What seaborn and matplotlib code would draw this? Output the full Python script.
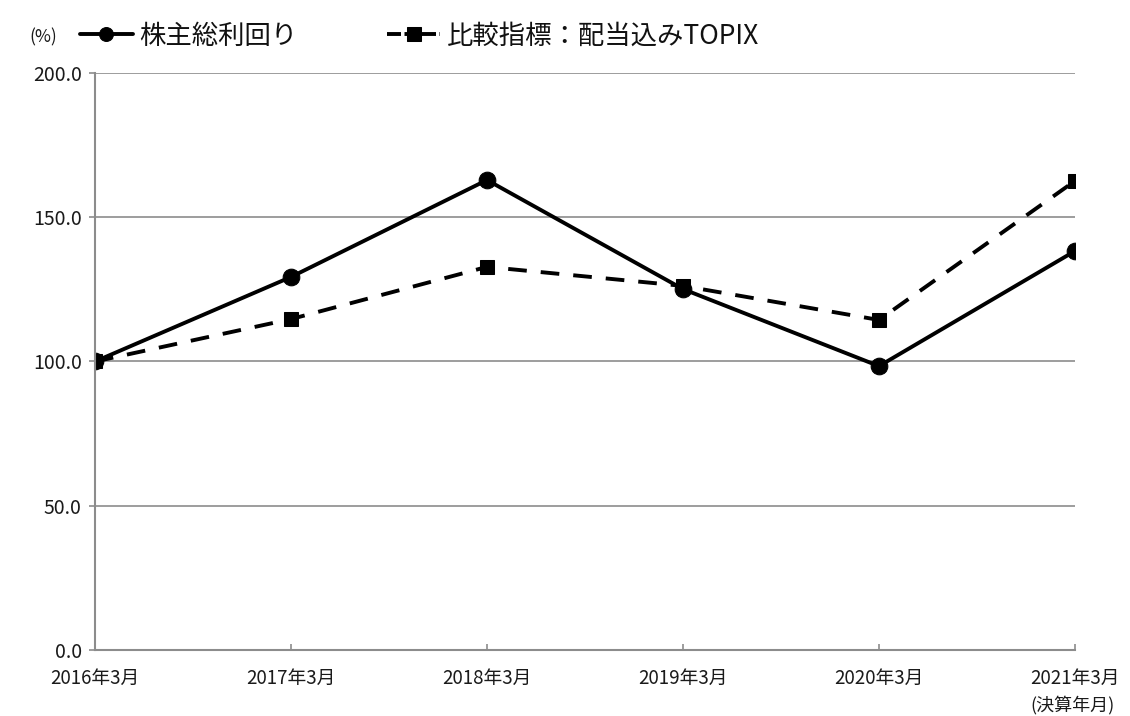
import matplotlib
matplotlib.use("Agg")
import matplotlib.pyplot as plt
import seaborn as sns
import pandas as pd

categories = ["2016年3月", "2017年3月", "2018年3月", "2019年3月", "2020年3月", "2021年3月"]
tsr = [100.0, 129.3, 162.9, 125.1, 98.4, 138.3]
topix = [100.0, 114.7, 132.8, 126.2, 114.4, 162.6]
series_names = ["株主総利回り", "比較指標：配当込みTOPIX"]
yticks = [0, 50, 100, 150, 200]

sns.set_theme(style="white")
plt.rcParams["font.family"] = ["Noto Sans CJK JP", "DejaVu Sans"]

df = pd.DataFrame({
    "cat": categories * 2,
    "pos": list(range(len(categories))) * 2,
    "value": tsr + topix,
    "series": [series_names[0]] * len(categories) + [series_names[1]] * len(categories),
})

fig = plt.figure(figsize=(11.3, 7.16), dpi=100)
ax = fig.add_axes([95 / 1130, 1 - 650 / 716, (1075 - 95) / 1130, (650 - 73) / 716])

sns.lineplot(data=df[df.series == series_names[0]], x="pos", y="value", ax=ax,
             color="black", lw=2.8, marker="o", markersize=12,
             markeredgecolor="black", label=series_names[0])
sns.lineplot(data=df[df.series == series_names[1]], x="pos", y="value", ax=ax,
             color="black", lw=2.8, marker="s", markersize=10,
             markeredgecolor="black", label=series_names[1],
             dashes=False)
ax.lines[1].set_linestyle((0, (4.8, 3.6)))

ax.set_xlim(0, len(categories) - 1)
ax.set_ylim(0, 200)
ax.set_yticks(yticks)
ax.set_yticklabels([f"{v:.1f}" for v in yticks], fontsize=14, color="#1a1a1a")
ax.set_xticks(range(len(categories)))
ax.set_xticklabels(categories, fontsize=13.5, color="#1a1a1a")
ax.set_xlabel("")
ax.set_ylabel("")

ax.grid(axis="y", color="#8c8c8c", lw=1.2)
ax.grid(axis="x", visible=False)
for s in ["top", "right"]:
    ax.spines[s].set_visible(False)
for s in ["left", "bottom"]:
    ax.spines[s].set_color("#8c8c8c")
    ax.spines[s].set_linewidth(1.5)
ax.tick_params(axis="y", direction="out", length=4.5, color="#8c8c8c", width=1.2, left=True, pad=5)
ax.tick_params(axis="x", direction="in", length=4.5, color="#8c8c8c", width=1.2, bottom=True, pad=13)

leg = ax.legend(loc="center left", bbox_to_anchor=(80 / 1130, 1 - 36 / 716),
                bbox_transform=fig.transFigure, ncol=2, frameon=False,
                fontsize=19, handlelength=2.0, handletextpad=0.25,
                columnspacing=3.4, borderaxespad=0, borderpad=0)
for h in leg.legend_handles:
    h.set_markersize(10)
leg.legend_handles[1].set_linestyle((0, (3.6, 0.9)))
for t in leg.get_texts():
    t.set_color("#111111")

fig.text(43 / 1130, 1 - 37 / 716, "(%)", fontsize=12.5, va="center", ha="center", color="#1a1a1a")
fig.text(1073 / 1130, 1 - 705 / 716, "(決算年月)", fontsize=13, va="center", ha="center", color="#1a1a1a")

fig.savefig("out.png", dpi=100)
